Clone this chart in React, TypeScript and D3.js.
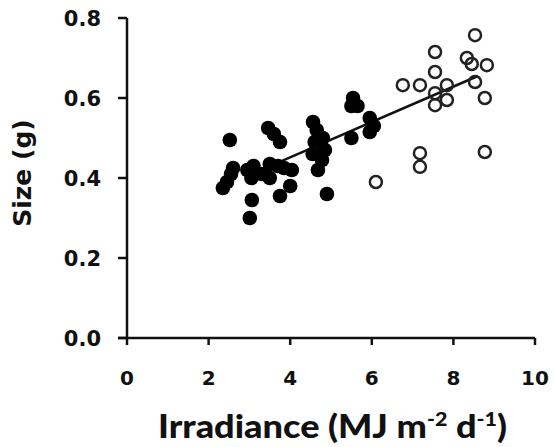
import React from "react";
import * as d3 from "d3";

const W = 554;
const H = 447;

const xTicks = [0, 2, 4, 6, 8, 10];
const yTicks = [0.0, 0.2, 0.4, 0.6, 0.8];

// filled points (irradiance, size)
const filledX = [2.35, 2.45, 2.55, 2.6, 2.52, 2.95, 3.05, 3.1, 3.3, 3.06, 3.01, 3.46, 3.6, 3.75, 3.5, 3.7, 3.85, 4.04, 4.0, 3.75, 3.5, 4.56, 4.65, 4.8, 4.6, 4.85, 4.78, 4.68, 4.9, 4.55, 5.54, 5.65, 5.95, 6.05, 5.95, 5.5, 5.5];
const filledY = [0.375, 0.39, 0.41, 0.425, 0.495, 0.42, 0.4, 0.43, 0.41, 0.345, 0.3, 0.525, 0.51, 0.49, 0.435, 0.43, 0.425, 0.42, 0.38, 0.355, 0.4, 0.54, 0.52, 0.5, 0.49, 0.47, 0.445, 0.42, 0.36, 0.46, 0.6, 0.58, 0.55, 0.53, 0.515, 0.5, 0.58];

// open points
const openX = [8.53, 7.55, 8.33, 8.45, 8.82, 7.55, 6.76, 7.18, 7.84, 7.55, 7.84, 7.55, 8.53, 8.77, 7.18, 7.18, 8.77, 6.1];
const openY = [0.757, 0.715, 0.7, 0.685, 0.682, 0.665, 0.632, 0.632, 0.632, 0.612, 0.595, 0.582, 0.64, 0.6, 0.462, 0.428, 0.465, 0.39];

// regression line endpoints
const lineX = [3.8, 8.6];
const lineY = [0.443, 0.655];

export default function App() {
  const x = d3.scaleLinear().domain([0, 10]).range([127, 535]);
  const y = d3.scaleLinear().domain([0, 0.8]).range([338, 18]);
  const line = d3
    .line<number>()
    .x((d, i) => x(lineX[i]))
    .y((d, i) => y(lineY[i]));
  const tickFont = "'DejaVu Sans', Verdana, sans-serif";
  return (
    <svg
      width={W}
      height={H}
      style={{ position: "absolute", left: 0, top: 0, background: "#fff" }}
    >
      {/* axes */}
      <line x1={127} x2={127} y1={y(0.8)} y2={y(0)} stroke="#111" strokeWidth={2.5} />
      <line x1={118} x2={x(10)} y1={y(0)} y2={y(0)} stroke="#111" strokeWidth={2.5} />
      {yTicks.map((t) => (
        <g key={"y" + t}>
          <line x1={118} x2={127} y1={y(t)} y2={y(t)} stroke="#111" strokeWidth={2.5} />
          <text
            x={101}
            y={y(t)}
            dy="0.36em"
            textAnchor="end"
            fontFamily={tickFont}
            fontWeight="bold"
            fontSize={21}
            fill="#111"
          >
            {t.toFixed(1)}
          </text>
        </g>
      ))}
      {xTicks.map((t) => (
        <g key={"x" + t}>
          <line x1={x(t)} x2={x(t)} y1={y(0)} y2={y(0) + 7} stroke="#111" strokeWidth={2.5} />
          <text
            x={x(t)}
            y={385}
            textAnchor="middle"
            fontFamily={tickFont}
            fontWeight="bold"
            fontSize={20}
            fill="#111"
          >
            {t}
          </text>
        </g>
      ))}
      {/* regression line */}
      <path d={line(lineX) || ""} stroke="#111" strokeWidth={2.5} fill="none" />
      {/* open points */}
      {openX.map((v, i) => (
        <circle
          key={"o" + i}
          cx={x(v)}
          cy={y(openY[i])}
          r={6}
          fill="none"
          stroke="#222"
          strokeWidth={2.5}
        />
      ))}
      {/* filled points */}
      {filledX.map((v, i) => (
        <circle key={"f" + i} cx={x(v)} cy={y(filledY[i])} r={7.3} fill="#000" />
      ))}
      {/* axis titles */}
      <text
        transform="translate(31,173) rotate(-90)"
        textAnchor="middle"
        fontFamily={tickFont}
        fontWeight="bold"
        fontSize={25}
        fill="#111"
      >
        Size (g)
      </text>
      <text
        x={158}
        y={438}
        fontFamily="Lato, 'Open Sans', sans-serif"
        fontWeight="900"
        fontSize={32}
        fill="#111"
        textLength={349}
        lengthAdjust="spacingAndGlyphs"
      >
        Irradiance (MJ m
        <tspan fontSize={19} dy={-12}>-2</tspan>
        <tspan dy={12}> d</tspan>
        <tspan fontSize={19} dy={-12}>-1</tspan>
        <tspan dy={12}>)</tspan>
      </text>
    </svg>
  );
}
